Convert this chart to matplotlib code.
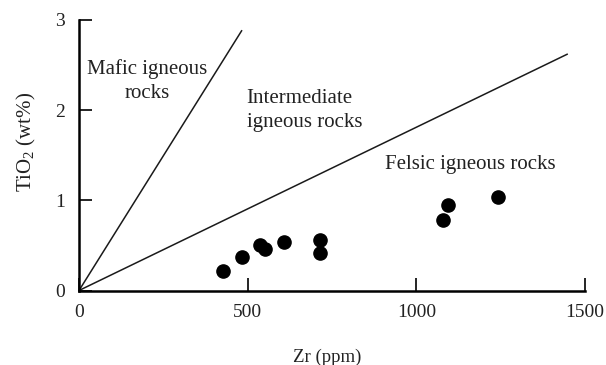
import matplotlib
matplotlib.use('Agg')
import matplotlib.pyplot as plt

plt.rcParams['font.family'] = ['Liberation Serif', 'DejaVu Serif']
plt.rcParams['mathtext.fontset'] = 'custom'
plt.rcParams['mathtext.rm'] = 'Liberation Serif'
plt.rcParams['text.color'] = '#222222'
plt.rcParams['xtick.labelcolor'] = '#222222'
plt.rcParams['ytick.labelcolor'] = '#222222'
plt.rcParams['axes.labelcolor'] = '#222222'

# Zr (ppm) and TiO2 (wt%) of the analysed samples
zr = [426, 484, 537, 551, 607, 715, 715, 1080, 1093, 1241]
tio2 = [0.22, 0.37, 0.51, 0.46, 0.54, 0.56, 0.42, 0.78, 0.95, 1.04]

# field boundaries, drawn from the origin to these end points
mafic_end = (482, 2.88)
felsic_end = (1447, 2.62)

xticks = [0, 500, 1000, 1500]
yticks = [0, 1, 2, 3]

fig = plt.figure(figsize=(6.06, 3.65), dpi=100)
ax = fig.add_axes([79 / 606, 74.5 / 365, 506 / 606, 270.5 / 365])

for end in (mafic_end, felsic_end):
    ax.plot([0, end[0]], [0, end[1]], color='#1a1a1a', lw=1.1, clip_on=False)

ax.plot(zr, tio2, 'o', color='black', markersize=9.5, clip_on=False)

ax.set_xlim(0, 1500)
ax.set_ylim(0, 3)
ax.set_xticks(xticks)
ax.set_yticks(yticks)
ax.spines['top'].set_visible(False)
ax.spines['right'].set_visible(False)
for s in ('left', 'bottom'):
    ax.spines[s].set_linewidth(1.8)
ax.tick_params(direction='in', length=9.5, width=1.2, labelsize=14)
ax.tick_params(axis='x', pad=10)
ax.tick_params(axis='y', pad=10)

ax.set_xlabel('Zr (ppm)', fontsize=13.5)
ax.set_ylabel('TiO$_2$ (wt%)', fontsize=15)
ax.xaxis.set_label_coords(0.49, -0.215)
ax.yaxis.set_label_coords(-0.082, 0.55)

ax.text(202, 2.32, 'Mafic igneous\nrocks', fontsize=15, ha='center', va='center',
        linespacing=1.35)
ax.text(497, 2.0, 'Intermediate\nigneous rocks', fontsize=15, ha='left', va='center',
        linespacing=1.35)
ax.text(907, 1.40, 'Felsic igneous rocks', fontsize=15, ha='left', va='center')

fig.savefig('out.png', dpi=100)
